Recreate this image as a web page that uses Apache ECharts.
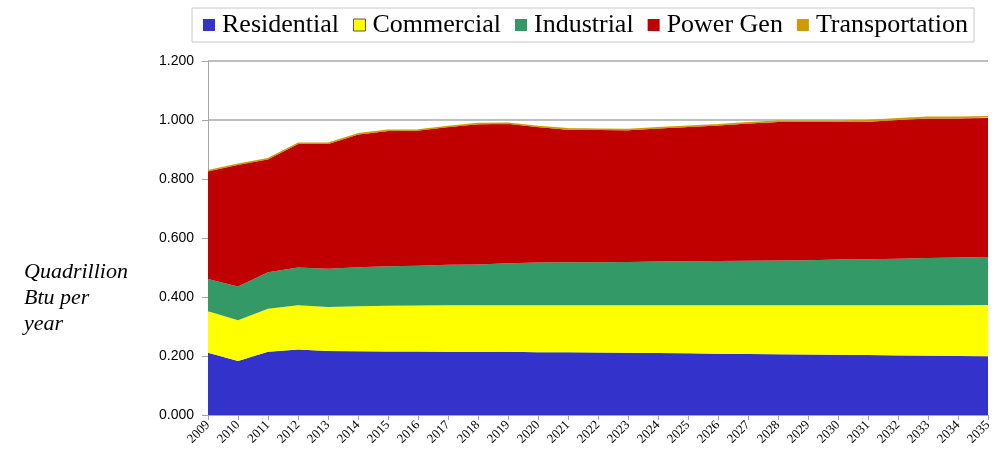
<!DOCTYPE html>
<html>
<head>
<meta charset="utf-8">
<script src="https://cdn.jsdelivr.net/npm/echarts@6/dist/echarts.min.js"></script>
<style>
  html, body { margin: 0; padding: 0; background: #fff; }
  #chart { width: 1000px; height: 457px; }
</style>
</head>
<body>
<div id="chart"></div>
<script>
const years = ['2009','2010','2011','2012','2013','2014','2015','2016','2017','2018','2019','2020','2021','2022',
  '2023','2024','2025','2026','2027','2028','2029','2030','2031','2032','2033','2034','2035']

const residential = [0.211,0.183,0.214,0.222,0.217,0.216,0.215,0.215,0.214,0.214,0.214,0.213,0.213,0.212,
  0.211,0.210,0.209,0.208,0.207,0.206,0.205,0.204,0.203,0.202,0.201,0.200,0.199]
const commercial = [0.141,0.138,0.146,0.150,0.149,0.153,0.155,0.156,0.158,0.158,0.158,0.159,0.159,0.160,
  0.161,0.162,0.163,0.164,0.165,0.166,0.167,0.168,0.169,0.170,0.171,0.172,0.174]
const industrial = [0.109,0.115,0.124,0.128,0.130,0.132,0.134,0.135,0.137,0.138,0.142,0.145,0.146,0.146,
  0.147,0.148,0.149,0.150,0.151,0.152,0.153,0.155,0.156,0.158,0.160,0.162,0.163]
const powerGen = [0.365,0.412,0.383,0.419,0.423,0.450,0.459,0.458,0.467,0.476,0.473,0.459,0.449,0.448,
  0.446,0.451,0.455,0.459,0.465,0.469,0.468,0.466,0.466,0.470,0.473,0.471,0.471]
const transportation = [0.002,0.002,0.002,0.002,0.002,0.002,0.002,0.002,0.002,0.002,0.002,0.002,0.003,0.003,
  0.003,0.003,0.003,0.003,0.003,0.003,0.003,0.003,0.004,0.004,0.004,0.004,0.004]

const seriesDefs = [
  { name: 'Residential', data: residential, color: '#3333CC' },
  { name: 'Commercial', data: commercial, color: '#FFFF00' },
  { name: 'Industrial', data: industrial, color: '#339966' },
  { name: 'Power Gen', data: powerGen, color: '#C00000' },
  { name: 'Transportation', data: transportation, color: '#D09A00' }
]

const chart = echarts.init(document.getElementById('chart'))

const option = {
  animation: false,
  title: {
    text: 'Quadrillion\nBtu per\nyear',
    left: 19,
    top: 254,
    textStyle: {
      fontFamily: 'Liberation Serif',
      fontStyle: 'italic',
      fontWeight: 'normal',
      fontSize: 22,
      lineHeight: 26,
      color: '#000'
    }
  },
  legend: {
    left: 192,
    top: 8,
    padding: [4, 6, 4, 11],
    itemWidth: 12,
    itemHeight: 12,
    itemGap: 14,
    icon: 'rect',
    borderColor: '#C8C8C8',
    borderWidth: 1,
    textStyle: { fontFamily: 'Liberation Serif', fontSize: 26, color: '#000', padding: [0, 0, 0, 2] },
    data: seriesDefs.map(s => ({
      name: s.name,
      itemStyle: s.name === 'Commercial'
        ? { color: s.color, borderColor: '#555', borderWidth: 1 }
        : { color: s.color }
    }))
  },
  grid: { left: 208, right: 12, top: 61, bottom: 42, containLabel: false },
  xAxis: {
    type: 'category',
    data: years,
    boundaryGap: false,
    axisLine: { lineStyle: { color: '#A6A6A6', width: 1 } },
    axisTick: { show: true, interval: 0, length: 5, lineStyle: { color: '#A6A6A6' } },
    axisLabel: {
      interval: 0,
      rotate: 45,
      margin: 8,
      fontFamily: 'Liberation Serif',
      fontSize: 13,
      color: '#000'
    }
  },
  yAxis: {
    type: 'value',
    min: 0,
    max: 1.2,
    interval: 0.2,
    axisLine: { show: true, lineStyle: { color: '#A6A6A6', width: 1 } },
    axisTick: { show: true, length: 6, lineStyle: { color: '#A6A6A6' } },
    axisLabel: {
      formatter: v => v.toFixed(3),
      fontFamily: 'Liberation Sans',
      fontSize: 14,
      color: '#000',
      margin: 14
    },
    splitLine: { show: true, lineStyle: { color: '#BFBFBF', width: 2 } }
  },
  series: seriesDefs.map(s => ({
    type: 'line',
    name: s.name,
    stack: 'total',
    data: s.data,
    showSymbol: false,
    symbol: 'none',
    itemStyle: { color: s.color },
    lineStyle: { width: s.name === 'Transportation' ? 1.5 : 0, color: s.color },
    areaStyle: { color: s.color, opacity: 1 }
  }))
}

chart.setOption(option)
</script>
</body>
</html>
